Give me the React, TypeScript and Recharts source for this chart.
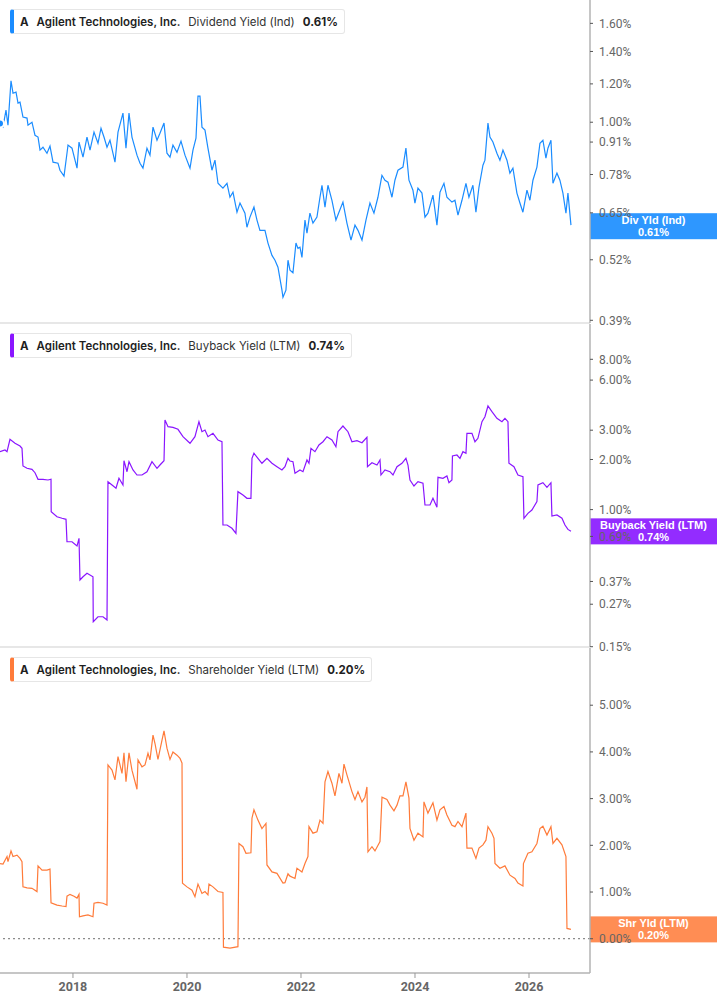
import { LineChart, Line, XAxis, YAxis, ReferenceLine } from "recharts";

// decimal year, yield %
const dividendYield: [number, number][] = [
  [2016.72, 0.994], [2016.773, 0.978], [2016.825, 1.059], [2016.86, 0.986], [2016.913, 1.218],
  [2016.948, 1.148], [2017.001, 1.154], [2017.036, 1.095], [2017.071, 1.1], [2017.123, 1.025],
  [2017.194, 1.02], [2017.211, 0.986], [2017.281, 1.0], [2017.334, 0.94], [2017.387, 0.932],
  [2017.422, 0.876], [2017.474, 0.888], [2017.544, 0.863], [2017.597, 0.893], [2017.65, 0.827],
  [2017.737, 0.823], [2017.772, 0.796], [2017.843, 0.774], [2017.895, 0.863], [2017.913, 0.897],
  [2017.983, 0.884], [2018.071, 0.804], [2018.106, 0.91], [2018.176, 0.847], [2018.246, 0.932],
  [2018.299, 0.876], [2018.369, 0.954], [2018.439, 0.905], [2018.492, 0.972], [2018.544, 0.932],
  [2018.597, 0.888], [2018.649, 0.918], [2018.737, 0.827], [2018.79, 0.954], [2018.877, 1.044],
  [2018.93, 0.884], [2018.983, 1.044], [2019.035, 0.932], [2019.123, 0.855], [2019.176, 0.823],
  [2019.228, 0.804], [2019.298, 0.884], [2019.351, 0.855], [2019.404, 0.977], [2019.474, 0.918],
  [2019.526, 0.949], [2019.597, 0.996], [2019.649, 0.863], [2019.702, 0.847], [2019.754, 0.897],
  [2019.825, 0.867], [2019.895, 0.914], [2019.965, 0.855], [2020.053, 0.804], [2020.105, 0.876],
  [2020.158, 0.927], [2020.193, 1.132], [2020.228, 1.132], [2020.263, 0.977], [2020.316, 0.963],
  [2020.368, 0.884], [2020.438, 0.796], [2020.491, 0.835], [2020.544, 0.748], [2020.631, 0.731],
  [2020.702, 0.748], [2020.754, 0.7], [2020.807, 0.717], [2020.877, 0.652], [2020.93, 0.681],
  [2021.017, 0.649], [2021.052, 0.607], [2021.105, 0.637], [2021.175, 0.668], [2021.228, 0.628],
  [2021.28, 0.598], [2021.368, 0.598], [2021.421, 0.563], [2021.491, 0.531], [2021.544, 0.519],
  [2021.596, 0.502], [2021.666, 0.45], [2021.684, 0.435], [2021.736, 0.45], [2021.772, 0.519],
  [2021.807, 0.495], [2021.859, 0.489], [2021.912, 0.563], [2021.947, 0.549], [2021.982, 0.552],
  [2022.017, 0.526], [2022.07, 0.628], [2022.105, 0.59], [2022.157, 0.649], [2022.21, 0.619],
  [2022.28, 0.637], [2022.333, 0.7], [2022.368, 0.741], [2022.421, 0.668], [2022.473, 0.741],
  [2022.543, 0.69], [2022.613, 0.628], [2022.666, 0.652], [2022.736, 0.684], [2022.806, 0.619],
  [2022.877, 0.571], [2022.947, 0.613], [2023.0, 0.598], [2023.07, 0.571], [2023.14, 0.628],
  [2023.21, 0.681], [2023.28, 0.649], [2023.35, 0.7], [2023.42, 0.777], [2023.473, 0.759],
  [2023.526, 0.752], [2023.596, 0.7], [2023.648, 0.759], [2023.701, 0.796], [2023.789, 0.808],
  [2023.841, 0.884], [2023.894, 0.759], [2023.964, 0.724], [2023.999, 0.681], [2024.052, 0.731],
  [2024.122, 0.714], [2024.175, 0.637], [2024.227, 0.649], [2024.315, 0.707], [2024.385, 0.613],
  [2024.438, 0.717], [2024.508, 0.748], [2024.56, 0.7], [2024.648, 0.684], [2024.701, 0.69],
  [2024.754, 0.643], [2024.824, 0.69], [2024.894, 0.748], [2024.946, 0.7], [2025.016, 0.741],
  [2025.069, 0.652], [2025.122, 0.734], [2025.192, 0.815], [2025.227, 0.835], [2025.28, 0.996],
  [2025.315, 0.932], [2025.367, 0.91], [2025.437, 0.863], [2025.49, 0.835], [2025.543, 0.876],
  [2025.613, 0.835], [2025.665, 0.785], [2025.718, 0.804], [2025.788, 0.714], [2025.841, 0.681],
  [2025.893, 0.652], [2025.964, 0.724], [2026.016, 0.69], [2026.069, 0.759], [2026.139, 0.808],
  [2026.192, 0.905], [2026.244, 0.918], [2026.297, 0.843], [2026.332, 0.884], [2026.385, 0.918],
  [2026.42, 0.748], [2026.49, 0.785], [2026.542, 0.759], [2026.595, 0.714], [2026.648, 0.649],
  [2026.683, 0.714], [2026.736, 0.613],
];

const buybackYield: [number, number][] = [
  [2016.72, 2.228], [2016.808, 2.28], [2016.843, 2.228], [2016.895, 2.645], [2016.983, 2.503],
  [2017.071, 2.411], [2017.106, 2.335], [2017.123, 1.828], [2017.194, 1.771], [2017.281, 1.746],
  [2017.334, 1.666], [2017.387, 1.521], [2017.474, 1.521], [2017.562, 1.506], [2017.615, 1.521],
  [2017.618, 0.971], [2017.72, 0.906], [2017.808, 0.887], [2017.878, 0.874], [2017.895, 0.641],
  [2017.983, 0.641], [2018.071, 0.604], [2018.106, 0.672], [2018.123, 0.378], [2018.176, 0.395],
  [2018.246, 0.414], [2018.351, 0.395], [2018.356, 0.212], [2018.439, 0.227], [2018.527, 0.227],
  [2018.597, 0.217], [2018.614, 1.471], [2018.685, 1.406], [2018.755, 1.343], [2018.807, 1.542],
  [2018.877, 1.406], [2018.895, 1.967], [2018.948, 1.689], [2018.983, 1.94], [2019.053, 1.73],
  [2019.123, 1.614], [2019.211, 1.614], [2019.298, 1.689], [2019.386, 1.94], [2019.474, 1.771],
  [2019.526, 1.853], [2019.597, 1.967], [2019.614, 3.455], [2019.667, 3.149], [2019.754, 3.122],
  [2019.842, 3.037], [2019.93, 2.742], [2020.053, 2.503], [2020.14, 2.742], [2020.21, 3.374],
  [2020.263, 2.938], [2020.316, 3.008], [2020.368, 2.742], [2020.456, 2.874], [2020.544, 2.619],
  [2020.614, 2.558], [2020.631, 0.808], [2020.702, 0.808], [2020.789, 0.772], [2020.859, 0.72],
  [2020.894, 1.281], [2020.982, 1.224], [2021.052, 1.169], [2021.122, 1.169], [2021.14, 2.033],
  [2021.175, 2.179], [2021.245, 2.033], [2021.315, 1.898], [2021.403, 2.033], [2021.491, 1.898],
  [2021.579, 1.81], [2021.666, 1.73], [2021.719, 1.81], [2021.772, 2.033], [2021.807, 1.959],
  [2021.859, 1.94], [2021.895, 1.652], [2021.982, 1.73], [2022.035, 1.689], [2022.105, 1.986],
  [2022.14, 1.898], [2022.175, 2.335], [2022.245, 2.228], [2022.315, 2.444], [2022.386, 2.558],
  [2022.456, 2.742], [2022.543, 2.619], [2022.613, 2.387], [2022.649, 2.938], [2022.736, 3.179],
  [2022.824, 2.938], [2022.894, 2.558], [2022.982, 2.594], [2023.07, 2.523], [2023.157, 2.719],
  [2023.166, 1.81], [2023.245, 1.913], [2023.333, 1.853], [2023.386, 1.986], [2023.403, 1.614],
  [2023.473, 1.73], [2023.561, 1.689], [2023.614, 1.614], [2023.684, 1.81], [2023.771, 1.898],
  [2023.841, 2.033], [2023.877, 1.853], [2023.912, 1.506], [2023.982, 1.386], [2024.052, 1.471],
  [2024.14, 1.439], [2024.175, 1.066], [2024.263, 1.066], [2024.315, 1.169], [2024.385, 1.032],
  [2024.403, 1.563], [2024.491, 1.542], [2024.56, 1.592], [2024.596, 1.451], [2024.648, 1.506],
  [2024.657, 2.099], [2024.736, 2.128], [2024.789, 2.033], [2024.841, 2.228], [2024.894, 2.179],
  [2024.911, 2.874], [2024.999, 2.874], [2025.052, 2.558], [2025.104, 2.682], [2025.175, 3.374],
  [2025.227, 3.616], [2025.28, 4.193], [2025.35, 3.875], [2025.437, 3.537], [2025.525, 3.374],
  [2025.578, 3.537], [2025.631, 3.374], [2025.648, 1.898], [2025.736, 1.81], [2025.806, 1.614],
  [2025.894, 1.576], [2025.911, 0.887], [2025.981, 0.95], [2026.051, 0.994], [2026.139, 1.116],
  [2026.157, 1.406], [2026.244, 1.451], [2026.315, 1.361], [2026.385, 1.451], [2026.402, 0.915],
  [2026.49, 0.928], [2026.578, 0.887], [2026.631, 0.808], [2026.683, 0.76], [2026.736, 0.74],
];

const shareholderYield: [number, number][] = [
  [2016.72, 1.61], [2016.773, 1.6], [2016.843, 1.76], [2016.86, 1.65], [2016.913, 1.88],
  [2016.948, 1.76], [2017.018, 1.79], [2017.071, 1.72], [2017.106, 1.65], [2017.123, 1.11],
  [2017.194, 1.09], [2017.281, 1.08], [2017.369, 1.01], [2017.387, 1.56], [2017.457, 1.47],
  [2017.544, 1.47], [2017.597, 1.49], [2017.615, 0.77], [2017.72, 0.72], [2017.808, 0.7],
  [2017.878, 0.69], [2017.895, 0.91], [2017.948, 0.95], [2018.018, 0.91], [2018.071, 0.87],
  [2018.106, 0.95], [2018.114, 0.47], [2018.176, 0.49], [2018.263, 0.51], [2018.351, 0.47],
  [2018.369, 0.76], [2018.439, 0.78], [2018.527, 0.76], [2018.597, 0.72], [2018.614, 3.72],
  [2018.685, 3.61], [2018.737, 3.4], [2018.79, 3.9], [2018.86, 3.54], [2018.895, 3.98],
  [2018.93, 3.36], [2018.983, 3.98], [2019.035, 3.61], [2019.123, 3.2], [2019.141, 3.83],
  [2019.211, 3.68], [2019.263, 3.72], [2019.316, 3.97], [2019.351, 3.83], [2019.404, 4.36],
  [2019.439, 4.18], [2019.491, 3.84], [2019.562, 4.25], [2019.597, 4.45], [2019.649, 4.08],
  [2019.702, 3.84], [2019.754, 4.0], [2019.825, 3.93], [2019.878, 3.86], [2019.913, 3.76],
  [2019.921, 1.19], [2020.0, 1.11], [2020.088, 1.04], [2020.14, 0.9], [2020.193, 1.17],
  [2020.263, 0.97], [2020.316, 1.01], [2020.368, 0.94], [2020.386, 1.17], [2020.456, 1.11],
  [2020.544, 1.01], [2020.631, 0.99], [2020.64, -0.18], [2020.754, -0.2], [2020.894, -0.17],
  [2020.912, 2.04], [2020.982, 1.97], [2021.035, 1.83], [2021.122, 1.84], [2021.14, 2.58],
  [2021.175, 2.76], [2021.245, 2.54], [2021.315, 2.36], [2021.386, 2.47], [2021.403, 1.58],
  [2021.491, 1.43], [2021.579, 1.4], [2021.684, 1.19], [2021.719, 1.2], [2021.772, 1.39],
  [2021.807, 1.34], [2021.895, 1.29], [2021.929, 1.51], [2022.017, 1.43], [2022.07, 1.61],
  [2022.122, 1.76], [2022.14, 2.4], [2022.21, 2.26], [2022.28, 2.29], [2022.333, 2.54],
  [2022.386, 2.47], [2022.421, 3.36], [2022.473, 3.58], [2022.543, 3.33], [2022.596, 3.06],
  [2022.666, 3.54], [2022.719, 3.33], [2022.754, 3.74], [2022.806, 3.51], [2022.894, 3.15],
  [2022.947, 2.98], [2023.0, 3.15], [2023.07, 2.93], [2023.122, 3.03], [2023.157, 3.25],
  [2023.175, 1.86], [2023.245, 1.97], [2023.298, 1.88], [2023.386, 2.08], [2023.421, 3.03],
  [2023.508, 2.98], [2023.561, 2.86], [2023.631, 2.74], [2023.684, 2.86], [2023.736, 3.06],
  [2023.789, 3.06], [2023.841, 3.36], [2023.894, 3.01], [2023.912, 2.36], [2023.982, 2.11],
  [2024.052, 2.26], [2024.14, 2.18], [2024.157, 2.93], [2024.227, 2.69], [2024.315, 2.91],
  [2024.385, 2.54], [2024.438, 2.76], [2024.508, 2.83], [2024.56, 2.65], [2024.648, 2.43],
  [2024.701, 2.4], [2024.754, 2.51], [2024.824, 2.4], [2024.894, 2.69], [2024.911, 1.94],
  [2024.999, 1.94], [2025.069, 1.72], [2025.122, 1.94], [2025.192, 2.01], [2025.245, 2.11],
  [2025.28, 2.4], [2025.35, 2.26], [2025.386, 2.15], [2025.403, 1.61], [2025.49, 1.51],
  [2025.578, 1.56], [2025.666, 1.36], [2025.754, 1.29], [2025.806, 1.19], [2025.894, 1.13],
  [2025.902, 1.61], [2025.981, 1.83], [2026.051, 1.86], [2026.139, 2.04], [2026.192, 2.36],
  [2026.244, 2.41], [2026.315, 2.22], [2026.385, 2.4], [2026.42, 2.04], [2026.49, 2.15],
  [2026.578, 2.01], [2026.648, 1.76], [2026.666, 0.22], [2026.736, 0.2],
];

const yearTicks = [2018, 2020, 2022, 2024, 2026];
const divTicks = [0.39, 0.52, 0.65, 0.78, 0.91, 1.0, 1.2, 1.4, 1.6];
const buybackTicks = [0.15, 0.27, 0.37, 0.69, 1, 2, 3, 6, 8];
const shareholderTicks = [0, 1, 2, 3, 4, 5];

const W = 717;
const AXIS_W = 127;
const X_DOMAIN = [2016.72, 2027.07];

const pct = (v: number) => `${v.toFixed(2)}%`;

const EndTag = ({ viewBox, color, title, value }: any) => {
  if (!viewBox) return null;
  const left = viewBox.x + viewBox.width;
  const y = viewBox.y;
  return (
    <g>
      <rect x={left} y={y - 13} width={AXIS_W} height={26} fill={color} fillOpacity={0.93} />
      <text
        x={left + AXIS_W / 2}
        y={y - 2}
        textAnchor="middle"
        fill="#fff"
        fontSize={11}
        fontWeight={700}
        fontFamily="'Liberation Sans', Arial, sans-serif"
      >
        {title}
      </text>
      <text
        x={left + AXIS_W / 2}
        y={y + 10}
        textAnchor="middle"
        fill="#fff"
        fontSize={11}
        fontWeight={700}
        fontFamily="'Liberation Sans', Arial, sans-serif"
      >
        {value}
      </text>
    </g>
  );
};

const SeriesTag = ({ color, name, value }: { color: string; name: string; value: string }) => (
  <div
    style={{
      position: "absolute",
      left: 10,
      top: 9,
      height: 23,
      display: "flex",
      alignItems: "center",
      background: "#fff",
      border: "1px solid #e6e6e6",
      borderLeft: `4px solid ${color}`,
      borderRadius: 3,
      padding: "0 6px 0 6px",
      fontFamily: "Inter, sans-serif",
      fontSize: 11.5,
      color: "#1f1f1f",
      whiteSpace: "nowrap",
    }}
  >
    <span style={{ fontWeight: 700, marginRight: 8 }}>A</span>
    <span style={{ fontWeight: 600, marginRight: 8 }}>Agilent Technologies, Inc.</span>
    <span style={{ marginRight: 8, color: "#333" }}>{name}</span>
    <span style={{ fontWeight: 700 }}>{value}</span>
  </div>
);

interface PanelProps {
  top: number;
  height: number;
  data: [number, number][];
  color: string;
  tagColor: string;
  name: string;
  shortName: string;
  last: number;
  ticks: number[];
  domain: number[];
  log?: boolean;
  years?: boolean;
  zeroLine?: boolean;
}

const Panel = (p: PanelProps) => {
  const rows = p.data.map(([t, v]) => ({ t, v }));
  return (
    <div style={{ position: "absolute", left: 0, top: p.top, width: W, height: p.height }}>
      <LineChart width={W} height={p.height} data={rows} margin={{ top: 0, right: 0, bottom: 0, left: 0 }}>
        {p.years ? (
          <XAxis
            dataKey="t"
            type="number"
            domain={X_DOMAIN}
            allowDataOverflow
            ticks={yearTicks}
            height={32}
            tickSize={5}
            tickMargin={4}
            tickLine={{ stroke: "#999" }}
            axisLine={{ stroke: "#b3b3b3", strokeWidth: 1.5 }}
            tick={{ fill: "#666", fontSize: 12.5, fontWeight: 700, fontFamily: "Roboto, sans-serif" }}
          />
        ) : (
          <XAxis
            dataKey="t"
            type="number"
            domain={X_DOMAIN}
            allowDataOverflow
            height={1}
            tick={false}
            tickLine={false}
            axisLine={{ stroke: "#cfcfcf", strokeWidth: 1 }}
          />
        )}
        <YAxis
          orientation="right"
          width={AXIS_W}
          type="number"
          scale={p.log ? "log" : "linear"}
          domain={p.domain}
          allowDataOverflow
          ticks={p.ticks}
          interval={0}
          tickFormatter={pct}
          tickSize={3}
          tickMargin={6}
          tickLine={{ stroke: "#555" }}
          axisLine={{ stroke: "#b3b3b3", strokeWidth: 1.5 }}
          tick={{ fill: "#666", fontSize: 12, fontFamily: "Roboto, sans-serif" }}
        />
        {p.zeroLine && <ReferenceLine y={0} stroke="#8c8c8c" strokeDasharray="2 3" strokeWidth={1.2} />}
        <Line
          dataKey="v"
          type="linear"
          dot={false}
          stroke={p.color}
          strokeWidth={1.2}
          isAnimationActive={false}
        />
        <ReferenceLine
          y={p.last}
          stroke="none"
          label={<EndTag color={p.tagColor} title={p.shortName} value={pct(p.last)} />}
        />
      </LineChart>
      <SeriesTag color={p.color} name={p.name} value={pct(p.last)} />
    </div>
  );
};

export default function App() {
  return (
    <div style={{ position: "absolute", left: 0, top: 0, width: W, height: 1005, background: "#fff" }}>
      <style>{`.recharts-surface { overflow: visible; }`}</style>
      <Panel
        top={0}
        height={324}
        data={dividendYield}
        color="#1a8cff"
        tagColor="#1e8fff"
        name="Dividend Yield (Ind)"
        shortName="Div Yld (Ind)"
        last={0.61}
        ticks={divTicks}
        domain={[0.385, 1.788]}
        log
      />
      <Panel
        top={324}
        height={324}
        data={buybackYield}
        color="#8a16ff"
        tagColor="#8b1cff"
        name="Buyback Yield (LTM)"
        shortName="Buyback Yield (LTM)"
        last={0.74}
        ticks={buybackTicks}
        domain={[0.1494, 13.04]}
        log
      />
      <Panel
        top={648}
        height={357}
        data={shareholderYield}
        color="#ff7b3a"
        tagColor="#ff8447"
        name="Shareholder Yield (LTM)"
        shortName="Shr Yld (LTM)"
        last={0.2}
        ticks={shareholderTicks}
        domain={[-0.734, 6.225]}
        years
        zeroLine
      />
    </div>
  );
}
